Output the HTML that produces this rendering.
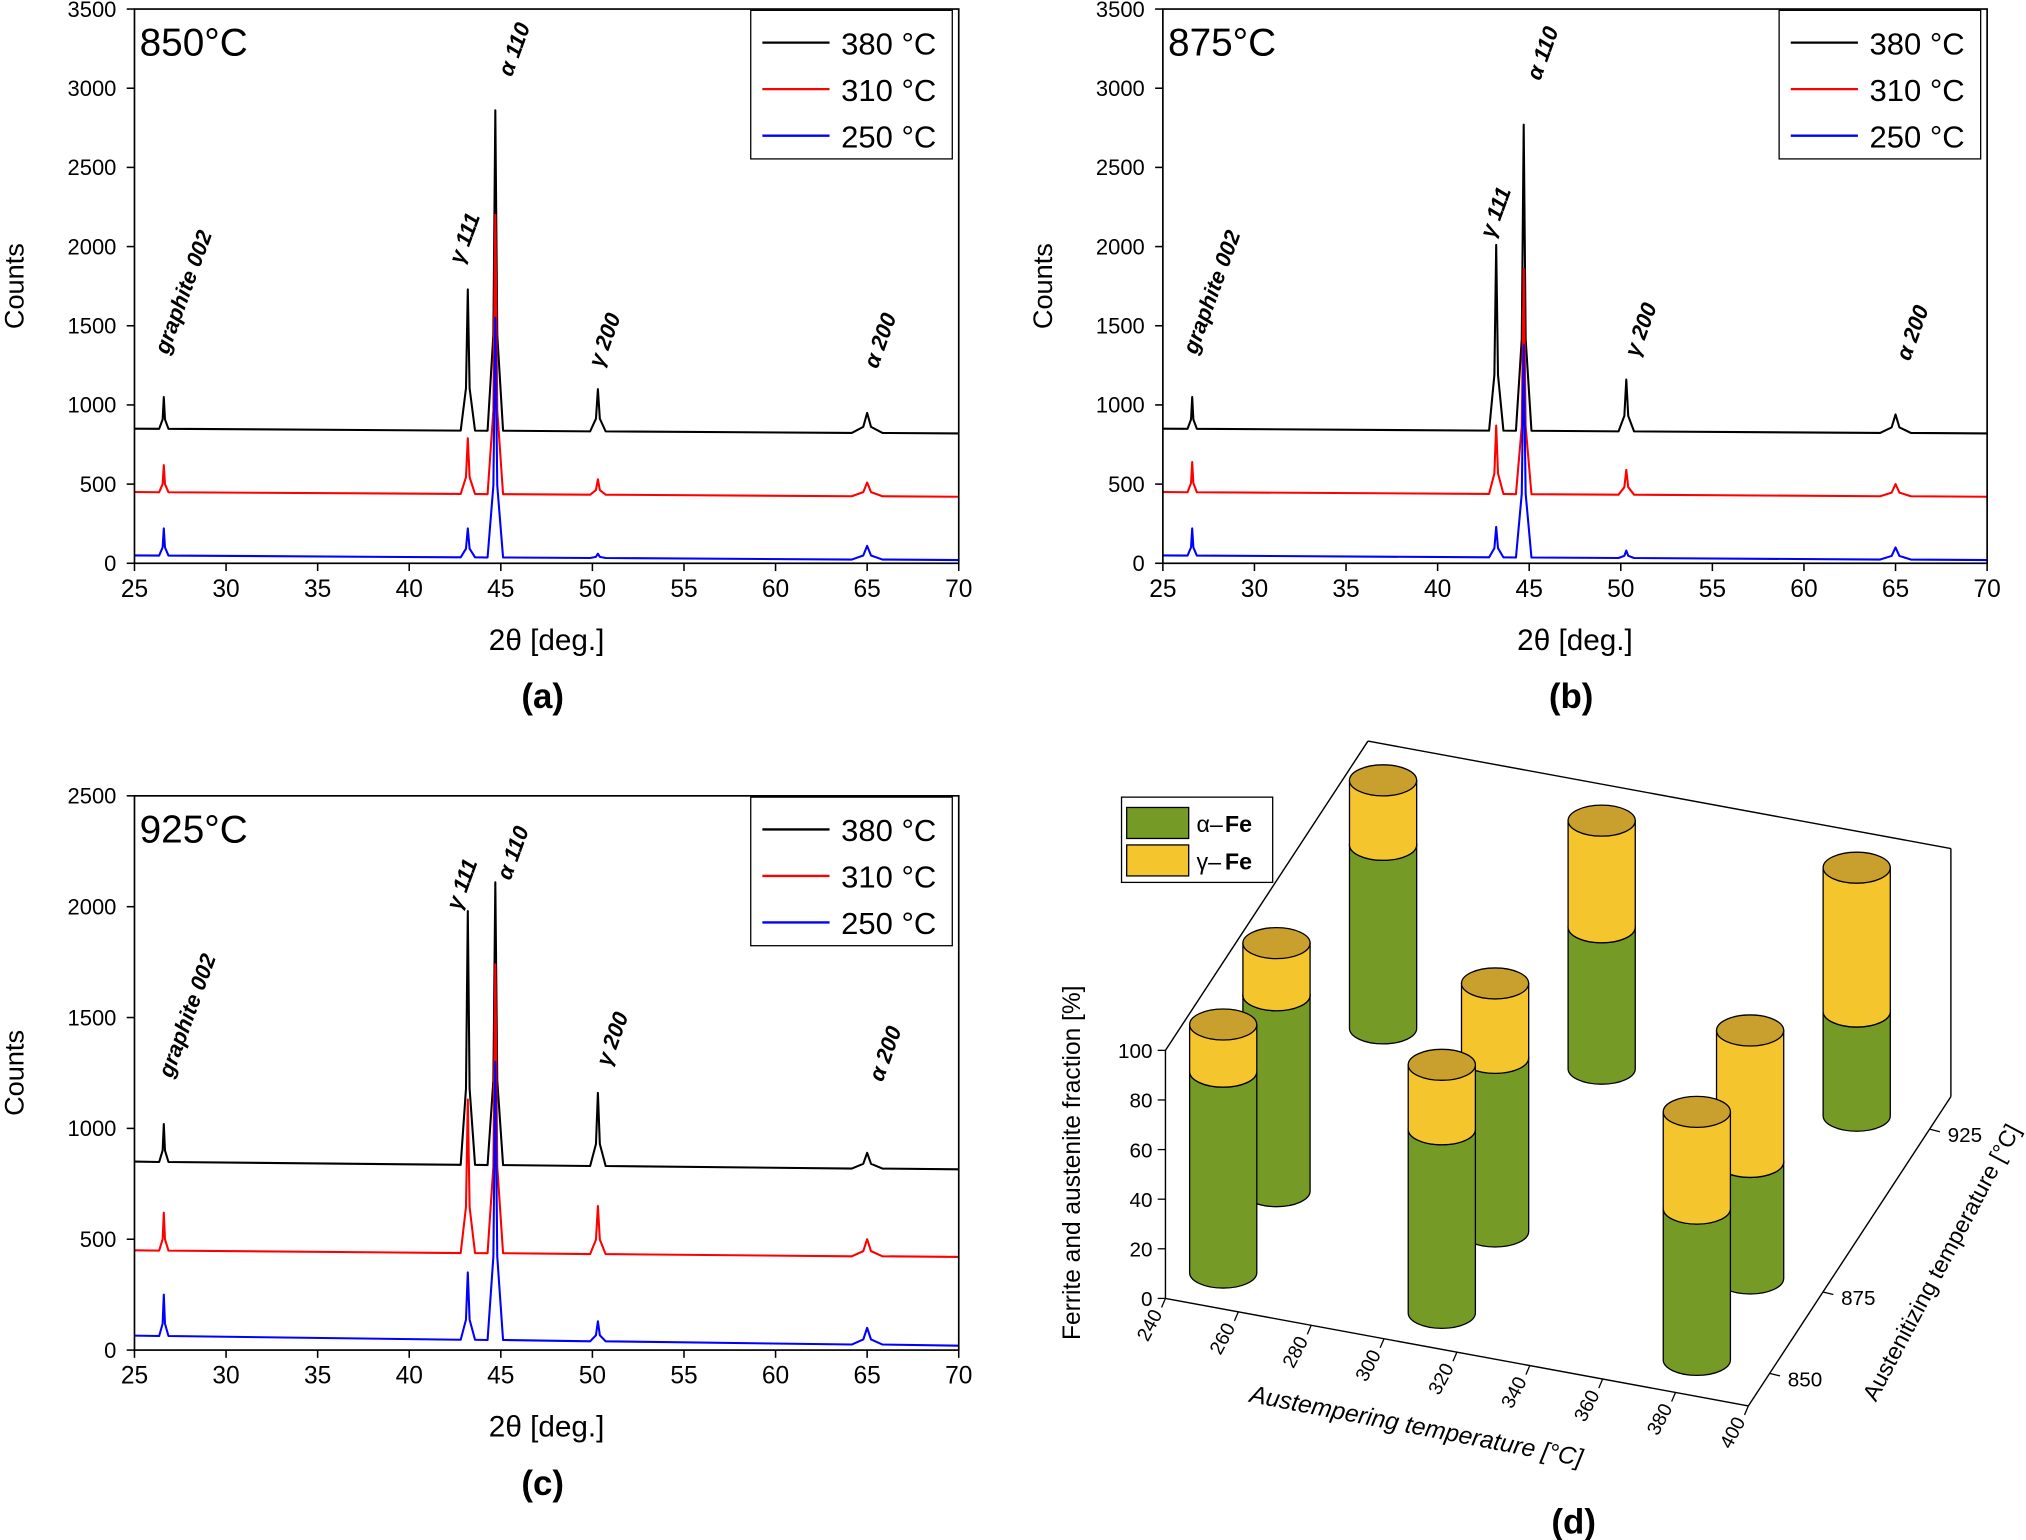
<!DOCTYPE html>
<html><head><meta charset="utf-8">
<style>
html,body{margin:0;padding:0;background:#fff;}
svg{display:block;font-family:"Liberation Sans",sans-serif;}
</style></head>
<body>
<svg id="fig" xmlns="http://www.w3.org/2000/svg" width="2026" height="1540" viewBox="0 0 1568 1192"></svg>
<script>
// ---------- Data ----------
const peakPos = [26.6, 43.2, 44.7, 50.3, 65.0];
const peakHalfWidth = [0.18, 0.28, 0.3, 0.3, 0.6];
const seriesNames = ["380 °C", "310 °C", "250 °C"];
const seriesColors = ["#000000", "#ff0000", "#0000ff"];
const baseA = [[850, 820], [450, 420], [50, 20]];
const baseB = [[850, 820], [450, 420], [50, 20]];
const baseC = [[850, 815], [450, 420], [65, 20]];
const peaksA = [[1050, 1730, 2860, 1100, 950], [620, 790, 2200, 530, 510], [220, 220, 1550, 60, 110]];
const peaksB = [[1050, 2010, 2770, 1160, 940], [640, 870, 1860, 590, 500], [220, 230, 1380, 80, 100]];
const peaksC = [[1020, 1980, 2110, 1160, 890], [620, 1130, 1740, 650, 500], [250, 350, 1300, 130, 100]];
const xTicks = [25, 30, 35, 40, 45, 50, 55, 60, 65, 70];
const yTicksAB = [0, 500, 1000, 1500, 2000, 2500, 3000, 3500];
const yTicksC = [0, 500, 1000, 1500, 2000, 2500];
const dAustemper = [250, 250, 250, 310, 310, 310, 380, 380, 380];
const dAustenitize = [850, 875, 925, 850, 875, 925, 850, 875, 925];
const dFerrite = [81, 79, 74, 74, 70, 57, 61, 47, 42];
const dAustenite = [19, 21, 26, 26, 30, 43, 39, 53, 58];

const NS = "http://www.w3.org/2000/svg";
const svg = document.getElementById("fig");
function mk(tag, attrs, parent, text) {
  const e = document.createElementNS(NS, tag);
  for (const k in attrs) e.setAttribute(k, attrs[k]);
  if (text !== undefined) e.textContent = text;
  (parent || svg).appendChild(e);
  return e;
}

function xrdPanel(cfg) {
  const g = mk("g", {});
  
  
  const {x0, x1, y0, y1, ymax} = cfg;
  const sx = v => x0 + (v - 25) / 45 * (x1 - x0);
  const sy = v => y0 - v / ymax * (y0 - y1);
  cfg.peaks.forEach((pk, si) => {
    const b = cfg.base[si];
    const baseAt = t => b[0] + (b[1] - b[0]) * (t - 25) / 45;
    const pts = [[25, baseAt(25)]];
    peakPos.forEach((p, i) => {
      const w = peakHalfWidth[i];
      pts.push([p - w * 1.4, baseAt(p)]);
      pts.push([p - w * 0.35, baseAt(p) + (pk[i] - baseAt(p)) * 0.3]);
      pts.push([p, pk[i]]);
      pts.push([p + w * 0.35, baseAt(p) + (pk[i] - baseAt(p)) * 0.3]);
      pts.push([p + w * 1.4, baseAt(p)]);
    });
    pts.push([70, baseAt(70)]);
    const line = mk("polyline", {points: pts.map(q => sx(q[0]).toFixed(1) + "," + sy(q[1]).toFixed(1)).join(" "), fill: "none", stroke: seriesColors[si], "stroke-width": 1.6, "stroke-linejoin": "round"}, g);
    
    
  });
  const fr = mk("rect", {x: x0, y: y1, width: x1 - x0, height: y0 - y1, fill: "none", stroke: "#000", "stroke-width": 1.3}, g);
  
  
  xTicks.forEach(t => {
    mk("line", {x1: sx(t), x2: sx(t), y1: y0, y2: y0 + 6, stroke: "#000", "stroke-width": 1.2}, g);
    const tl = mk("text", {x: sx(t), y: y0 + 26, "text-anchor": "middle", "font-size": 19}, g, t);
    
    
  });
  cfg.yTicks.forEach(t => {
    mk("line", {x1: x0 - 6, x2: x0, y1: sy(t), y2: sy(t), stroke: "#000", "stroke-width": 1.2}, g);
    const tl = mk("text", {x: x0 - 14, y: sy(t) + 6, "text-anchor": "end", "font-size": 17}, g, t);
    
    
  });
  const xt = mk("text", {x: (x0 + x1) / 2, y: y0 + 67, "text-anchor": "middle", "font-size": 23}, g, "2θ [deg.]");
  
  
  const yt = mk("text", {transform: `translate(${x0 - 86},${(y0 + y1) / 2}) rotate(-90)`, "text-anchor": "middle", "font-size": 21}, g, "Counts");
  
  
  const tt = mk("text", {x: x0 + 4, y: y1 + 36, "font-size": 30}, g, cfg.title);
  
  
  const pl = mk("text", {x: (x0 + x1) / 2 - 3, y: y0 + 112, "text-anchor": "middle", "font-size": 27, "font-weight": "bold"}, g, cfg.letter);
  
  
  const lg = mk("g", {}, g);
  
  
  mk("rect", {x: x1 - 161, y: y1 + 1, width: 156, height: 115, fill: "#fff", stroke: "#000", "stroke-width": 1}, lg);
  seriesNames.forEach((n, i) => {
    const ey = y1 + 26 + i * 36;
    const le = mk("g", {}, lg);
    
    
    mk("line", {x1: x1 - 152, x2: x1 - 100, y1: ey, y2: ey, stroke: seriesColors[i], "stroke-width": 1.8}, le);
    mk("text", {x: x1 - 91, y: ey + 9, "font-size": 24}, le, n);
  });
  cfg.ann.forEach(a => {
    const t = mk("text", {transform: `translate(${a[1]},${a[2]}) rotate(-70)`, "font-size": 17, "font-weight": "bold", "font-style": "italic"}, g, a[0]);
    
    
  });
}

xrdPanel({name: "panel-a-850", x0: 104, x1: 742, y0: 436, y1: 7, ymax: 3500, base: baseA, peaks: peaksA, yTicks: yTicksAB, title: "850°C", letter: "(a)",
  ann: [["graphite 002", 130, 275], ["γ 111", 358, 205], ["α 110", 396, 60], ["γ 200", 466, 285], ["α 200", 679, 286]]});
xrdPanel({name: "panel-b-875", x0: 900, x1: 1538, y0: 436, y1: 7, ymax: 3500, base: baseB, peaks: peaksB, yTicks: yTicksAB, title: "875°C", letter: "(b)",
  ann: [["graphite 002", 926, 275], ["γ 111", 1156, 185], ["α 110", 1192, 63], ["γ 200", 1268, 277], ["α 200", 1478, 280]]});
xrdPanel({name: "panel-c-925", x0: 104, x1: 742, y0: 1045, y1: 616, ymax: 2500, base: baseC, peaks: peaksC, yTicks: yTicksC, title: "925°C", letter: "(c)",
  ann: [["graphite 002", 133, 835], ["γ 111", 356, 705], ["α 110", 395, 682], ["γ 200", 472, 826], ["α 200", 683, 838]]});

// ---------- Panel d (3D) ----------
const gd = mk("g", {});


const O = [902, 1005];
const ax = [2.82, 0.52];
const ay = [1.65, -2.52];
const az = -1.92;
const A0 = 840, A1 = 935;
function P(t, a, f) { return [O[0] + (t - 240) * ax[0] + (a - A0) * ay[0], O[1] + (t - 240) * ax[1] + (a - A0) * ay[1] + f * az]; }
const boxLines = [[P(240,A0,0), P(400,A0,0)], [P(400,A0,0), P(400,A1,0)], [P(400,A1,0), P(400,A1,100)], [P(240,A1,100), P(400,A1,100)], [P(240,A0,100), P(240,A1,100)], [P(240,A0,0), P(240,A0,100)]];
boxLines.forEach(l => {
  const e = mk("line", {x1: l[0][0], y1: l[0][1], x2: l[1][0], y2: l[1][1], stroke: "#000", "stroke-width": 1.1}, gd);
  
  
});
[0, 20, 40, 60, 80, 100].forEach(v => {
  const p = P(240, A0, v);
  mk("line", {x1: p[0] - 6, x2: p[0], y1: p[1], y2: p[1], stroke: "#000"}, gd);
  const t = mk("text", {x: p[0] - 10, y: p[1] + 6, "text-anchor": "end", "font-size": 16}, gd, v);
  
  
});
[240, 260, 280, 300, 320, 340, 360, 380, 400].forEach(v => {
  const p = P(v, A0, 0);
  mk("line", {x1: p[0], x2: p[0] - 3, y1: p[1], y2: p[1] + 7, stroke: "#000"}, gd);
  const t = mk("text", {transform: `translate(${p[0] - 2},${p[1] + 12}) rotate(-62)`, "text-anchor": "end", "font-size": 15}, gd, v);
  
  
});
[850, 875, 925].forEach(v => {
  const p = P(400, v, 0);
  mk("line", {x1: p[0], x2: p[0] + 8, y1: p[1], y2: p[1] + 2, stroke: "#000"}, gd);
  const t = mk("text", {x: p[0] + 14, y: p[1] + 10, "font-size": 16}, gd, v);
  
  
});
const dz = mk("text", {transform: "translate(836,900) rotate(-90)", "text-anchor": "middle", "font-size": 19}, gd, "Ferrite and austenite fraction [%]");


const dx = mk("text", {transform: "translate(1095,1110) rotate(11)", "text-anchor": "middle", "font-size": 19, "font-style": "italic"}, gd, "Austempering temperature [°C]");


const dy = mk("text", {transform: "translate(1508,980) rotate(-62)", "text-anchor": "middle", "font-size": 18}, gd, "Austenitizing temperature [°C]");



const order = dAustemper.map((_, i) => i).sort((a, b) => (dAustenitize[b] - dAustenitize[a]) || (dAustemper[a] - dAustemper[b]));
const R = 26, RY = 12;
function cyl(parent, cx, yTop, yBot, fill, capFill) {
  mk("path", {d: `M${cx - R},${yTop} L${cx - R},${yBot} A${R},${RY} 0 0 0 ${cx + R},${yBot} L${cx + R},${yTop} Z`, fill: fill, stroke: "#000", "stroke-width": 1}, parent);
  mk("ellipse", {cx: cx, cy: yTop, rx: R, ry: RY, fill: capFill, stroke: "#000", "stroke-width": 1}, parent);
}
order.forEach(i => {
  const base = P(dAustemper[i], dAustenitize[i], 0);
  const mid = P(dAustemper[i], dAustenitize[i], dFerrite[i]);
  const top = P(dAustemper[i], dAustenitize[i], dFerrite[i] + dAustenite[i]);
  const g = mk("g", {}, gd);
  
  
  cyl(g, base[0], mid[1], base[1], "#759a26", "#759a26");
  cyl(g, base[0], top[1], mid[1], "#f4c52c", "#c9a02d");
});
const ld = mk("g", {}, gd);


mk("rect", {x: 868, y: 617, width: 117, height: 66, fill: "#fff", stroke: "#000"}, ld);
const le1 = mk("g", {}, ld);


mk("rect", {x: 872, y: 625, width: 48, height: 24, fill: "#759a26", stroke: "#000"}, le1);
mk("text", {x: 926, y: 644, "font-size": 18}, le1, "α–");
mk("text", {x: 948, y: 644, "font-size": 18, "font-weight": "bold"}, le1, "Fe");
const le2 = mk("g", {}, ld);


mk("rect", {x: 872, y: 654, width: 48, height: 24, fill: "#f4c52c", stroke: "#000"}, le2);
mk("text", {x: 926, y: 673, "font-size": 18}, le2, "γ–");
mk("text", {x: 948, y: 673, "font-size": 18, "font-weight": "bold"}, le2, "Fe");
const dl = mk("text", {x: 1218, y: 1187, "text-anchor": "middle", "font-size": 27, "font-weight": "bold"}, gd, "(d)");


</script>
</body></html>
